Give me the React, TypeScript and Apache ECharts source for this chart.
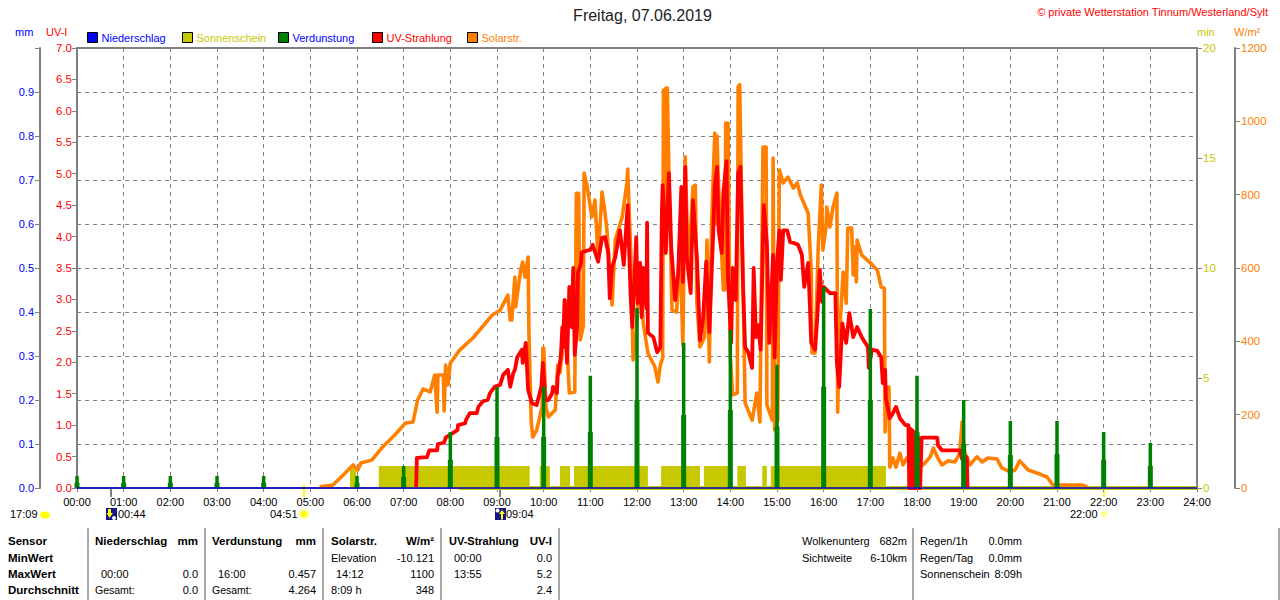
import React, { useEffect, useRef } from "react";
import * as echarts from "echarts";

const hourLabels = ["00:00","01:00","02:00","03:00","04:00","05:00","06:00","07:00","08:00","09:00","10:00","11:00","12:00","13:00","14:00","15:00","16:00","17:00","18:00","19:00","20:00","21:00","22:00","23:00","24:00"];

// Solar radiation, W/m²
const solarMinutes = [312,329,342,355,361,365,379,393,411,422,432,438,445,454,460,463,464,471,472,474,477,480,492,509,521,534,544,554,557,559,563,564,570,573,576,580,581,584,586,591,598,599,600,603,606,615,618,621,624,627,633,640,642,645,647,651,652,656,662,666,670,675,678,681,688,692,701,707,708,712,715,719,724,728,734,743,747,750,753,754,756,757,759,761,765,771,775,779,782,786,792,795,797,801,807,810,813,816,820,822,823,824,831,833,834,835,836,837,840,843,849,850,852,859,868,874,878,882,886,887,894,895,897,901,903,908,914,921,926,930,940,944,945,949,953,957,959,963,964,968,972,977,978,980,985,989,991,996,998,1000,1002,1003,1009,1020,1029,1034,1038,1039,1041,1044,1045,1049,1053,1058,1062,1067,1077,1088,1097,1101,1106,1112,1120,1129,1135,1138,1141,1148,1157,1164,1171,1183,1189,1200,1206,1212,1223,1238,1247,1255,1293,1299];
const solarValues = [3,8,35,63,49,68,76,112,150,177,180,240,270,262,308,207,308,308,210,335,281,341,376,409,439,472,485,526,458,458,575,494,589,616,575,630,431,180,139,158,221,382,382,221,194,213,335,314,371,513,259,262,804,804,404,442,859,821,739,785,622,807,766,712,499,676,739,832,870,641,349,423,603,450,368,330,289,335,355,1085,640,1090,1091,867,485,480,668,390,903,594,821,826,504,385,412,676,344,723,968,720,960,867,540,540,995,560,995,995,357,254,259,1094,1100,232,185,259,180,930,930,226,185,900,158,185,867,832,848,818,832,799,750,594,368,368,657,826,649,712,766,712,766,804,207,404,589,504,709,709,581,657,562,676,635,614,594,548,545,153,275,275,57,82,57,95,63,82,63,63,85,109,85,63,74,71,95,180,98,63,85,71,82,79,55,44,49,74,49,38,30,8,8,3];

// UV index
const uvMinutes = [436,437,450,453,463,464,472,474,489,490,499,500,505,514,516,522,528,531,537,544,548,554,557,561,563,566,572,573,577,580,585,591,597,599,602,606,611,612,617,618,622,624,625,627,630,633,636,638,640,643,644,648,649,660,663,670,675,679,683,685,688,692,698,703,708,712,714,719,721,724,726,728,732,733,734,741,746,750,752,753,757,761,764,769,773,777,779,782,784,789,792,797,801,805,809,813,818,820,823,825,829,831,835,837,841,843,847,850,853,856,859,863,868,870,873,876,879,881,883,887,890,895,897,900,903,905,908,913,917,921,927,932,935,940,942,944,949,952,955,958,960,968,975,977,980,984,989,993,998,1003,1009,1017,1018,1022,1029,1034,1036,1039,1040,1045,1049,1053,1058,1065,1069,1070,1071,1073,1074,1076,1077,1079,1081,1083,1084,1086,1106,1107,1112,1135,1138,1144,1145];
const uvValues = [0,0.48,0.49,0.6,0.6,0.7,0.72,0.8,0.92,1,1.03,1.08,1.19,1.19,1.29,1.38,1.4,1.51,1.61,1.64,1.8,1.88,1.61,1.83,1.88,2.08,2.2,1.99,2.31,1.56,1.35,1.32,1.61,1.99,1.4,1.4,1.51,1.61,1.51,1.77,2.08,2.56,2.24,2.99,1.99,3.2,2.56,3.5,2.12,2.56,3.42,3.58,3.75,3.79,3.87,3.6,3.98,3.99,3.74,3.02,3.52,3.67,4.1,3.55,4.5,2.99,2.56,3.99,2.94,3.58,2.72,3.5,2.86,4.22,2.47,2.4,2.16,2.24,4.42,4.82,3.74,5.01,3.83,2.99,3.42,4.79,3.28,5.11,3.67,3.1,4.58,3.67,2.35,2.7,3.6,2.48,4.06,4.82,5.11,4.1,3.74,4.69,5.2,3.36,2.31,3.5,2.99,5.01,5.11,3.36,2.24,2.16,1.91,3.5,2.4,2.59,2.2,3.36,4.5,3.9,2.31,3.71,2.08,3.58,4.1,3.31,4.1,4.1,3.91,3.9,3.87,3.71,3.2,3.58,2.99,2.31,2.2,2.75,3.47,2.96,3.2,3.1,3.1,1.99,1.61,2.62,2.31,2.78,2.4,2.56,2.4,2.24,1.91,2.2,2.18,2.08,1.67,1.88,1.43,1.11,1.19,1.29,1.11,1,1,0,0.95,0,0.92,0,0.89,0,0.83,0,0,0.8,0.8,0.68,0.6,0.6,0.46,0.49,0];

// Evaporation, mm: one peak and a lower base at the given minutes
const evapMinutes = [0,60,120,180,240,360,420,480,540,600,660,720,780,840,900,960,1020,1080,1140,1200,1260,1320,1380];
const evapPeaks = [0.027,0.027,0.027,0.027,0.027,0.027,0.05,0.127,0.23,0.23,0.255,0.409,0.33,0.359,0.28,0.457,0.407,0.255,0.2,0.152,0.152,0.127,0.102];
const evapBases = [0.012,0.012,0.012,0.012,0.012,0.012,0.025,0.064,0.116,0.116,0.127,0.2,0.166,0.177,0.14,0.23,0.2,0.127,0.1,0.075,0.077,0.064,0.05];

// Sunshine, min per interval
const sunStarts = [351,388,595,621,639,751,806,849,881,892];
const sunEnds = [359,582,608,634,734,801,838,860,887,1040];
const sunZeroRun = [[490, 0], [1440, 0]];

// Precipitation, mm
const rainRun = [[0, 0], [1440, 0]];

const titleText = "Freitag, 07.06.2019";
const copyrightText = "© private Wetterstation Tinnum/Westerland/Sylt";
const legendNames = ["Niederschlag", "Sonnenschein", "Verdunstung", "UV-Strahlung", "Solarstr."];
const axisUnits = ["mm", "UV-I", "min", "W/m²"];
const timeNotes = ["17:09", "00:44", "04:51", "09:04", "22:00"];
const tableColumnOne = ["Sensor", "MinWert", "MaxWert", "Durchschnitt"];
const rainCells = ["Niederschlag", "mm", "00:00", "0.0", "Gesamt:", "0.0"];
const evapCells = ["Verdunstung", "mm", "16:00", "0.457", "Gesamt:", "4.264"];
const solarCells = ["Solarstr.", "W/m²", "Elevation", "-10.121", "14:12", "1100", "8:09 h", "348"];
const uvCells = ["UV-Strahlung", "UV-I", "00:00", "0.0", "13:55", "5.2", "2.4"];
const extraCells = ["Wolkenunterg", "682m", "Sichtweite", "6-10km", "Regen/1h", "0.0mm", "Regen/Tag", "0.0mm", "Sonnenschein", "8:09h"];

const FONT = '"Liberation Sans", Arial, sans-serif';
const GREY = "#808080";

const zip = (a: number[], b: number[]) => a.map((m, i) => [m, b[i]]);
const comb = (mins: number[], vals: number[]) => {
  const out: any[] = [];
  mins.forEach((m, i) => {
    out.push([m, 0], [m, vals[i]], [m, "-"]);
  });
  return out;
};
const blocks = () => {
  const out: number[][] = [];
  sunStarts.forEach((s, i) => {
    out.push([s, 0], [s, 1], [sunEnds[i], 1], [sunEnds[i], 0]);
  });
  return out;
};

const txt = (text: string, x: number, y: number, fill = "#000", opt: any = {}) => ({
  type: "text",
  silent: true,
  style: {
    text, x, y, fill,
    font: `${opt.bold ? "bold " : ""}${opt.size ?? (opt.bold ? 11.5 : 11)}px ${FONT}`,
    textAlign: opt.align ?? "left",
    textVerticalAlign: "middle",
  },
});
const vline = (x: number, y1: number, y2: number, stroke: string, lineWidth = 2) => ({
  type: "line",
  silent: true,
  shape: { x1: x, y1, x2: x, y2 },
  style: { stroke, lineWidth },
});

function buildGraphics() {
  const R = [541, 558, 574, 590];
  const g: any[] = [];
  g.push(txt(titleText, 642.5, 15, "#222", { size: 16, align: "center" }));
  g.push(txt(copyrightText, 1268, 12, "#ff0000", { size: 11, align: "right" }));
  g.push(txt(axisUnits[0], 15, 32, "#0000ff"));
  g.push(txt(axisUnits[1], 46, 32, "#ff0000"));
  g.push(txt(axisUnits[2], 1197, 32, "#c8c800"));
  g.push(txt(axisUnits[3], 1234, 32, "#ff8000"));

  // sun and moon markers under the axis
  g.push(vline(111, 489, 497, GREY));
  g.push(vline(304, 484, 497, "#ffff00"));
  g.push(vline(500, 489, 497, GREY));
  g.push(vline(1104, 490, 497, "#ffff00"));
  g.push(txt(timeNotes[0], 10, 514));
  g.push({ type: "ellipse", silent: true, shape: { cx: 45, cy: 515, rx: 5, ry: 3.5 }, style: { fill: "#ffff00" } });
  g.push({ type: "rect", silent: true, shape: { x: 106, y: 508, width: 11, height: 12 }, style: { fill: "#14148c" } });
  g.push({ type: "polygon", silent: true, shape: { points: [[108, 509], [111, 509], [111, 513], [113, 513], [109.5, 518], [106.5, 513], [108, 513]] }, style: { fill: "#ffff00" } });
  g.push({ type: "circle", silent: true, shape: { cx: 114, cy: 518, r: 2 }, style: { fill: "#ffffff" } });
  g.push(txt(timeNotes[1], 118, 514));
  g.push(txt(timeNotes[2], 270, 514));
  g.push({ type: "circle", silent: true, shape: { cx: 304, cy: 514, r: 5.5 }, style: { fill: "#ffffc8" } });
  g.push({ type: "circle", silent: true, shape: { cx: 304, cy: 514, r: 3.5 }, style: { fill: "#ffff00" } });
  g.push({ type: "rect", silent: true, shape: { x: 495, y: 508, width: 11, height: 12 }, style: { fill: "#14148c" } });
  g.push({ type: "circle", silent: true, shape: { cx: 497.5, cy: 510.5, r: 2 }, style: { fill: "#ffffff" } });
  g.push({ type: "polygon", silent: true, shape: { points: [[502, 510], [505, 514], [503, 514], [503, 519.5], [501, 519.5], [501, 514], [499, 514]] }, style: { fill: "#ffff00" } });
  g.push(txt(timeNotes[3], 506, 514));
  g.push(txt(timeNotes[4], 1070, 514));
  g.push({ type: "rect", silent: true, shape: { x: 1102, y: 512, width: 4, height: 4 }, style: { fill: "#fff", stroke: "#ffff00", lineWidth: 1 } });

  // table separators
  [88, 205, 323, 441, 559, 913, 1279].forEach((x) => g.push(vline(x, 528, 600, "#a8a8a8")));

  tableColumnOne.forEach((t, i) => g.push(txt(t, 8, R[i], "#000", { bold: true })));

  g.push(txt(rainCells[0], 95, R[0], "#000", { bold: true }));
  g.push(txt(rainCells[1], 198, R[0], "#000", { bold: true, align: "right" }));
  g.push(txt(rainCells[2], 101, R[2]));
  g.push(txt(rainCells[3], 198, R[2], "#000", { align: "right" }));
  g.push(txt(rainCells[4], 95, R[3], "#000", { size: 10.5 }));
  g.push(txt(rainCells[5], 198, R[3], "#000", { align: "right" }));

  g.push(txt(evapCells[0], 212, R[0], "#000", { bold: true }));
  g.push(txt(evapCells[1], 316, R[0], "#000", { bold: true, align: "right" }));
  g.push(txt(evapCells[2], 218, R[2]));
  g.push(txt(evapCells[3], 316, R[2], "#000", { align: "right" }));
  g.push(txt(evapCells[4], 212, R[3], "#000", { size: 10.5 }));
  g.push(txt(evapCells[5], 316, R[3], "#000", { align: "right" }));

  g.push(txt(solarCells[0], 331, R[0], "#000", { bold: true }));
  g.push(txt(solarCells[1], 434, R[0], "#000", { bold: true, align: "right" }));
  g.push(txt(solarCells[2], 331, R[1]));
  g.push(txt(solarCells[3], 434, R[1], "#000", { align: "right" }));
  g.push(txt(solarCells[4], 336, R[2]));
  g.push(txt(solarCells[5], 434, R[2], "#000", { align: "right" }));
  g.push(txt(solarCells[6], 331, R[3]));
  g.push(txt(solarCells[7], 434, R[3], "#000", { align: "right" }));

  g.push(txt(uvCells[0], 449, R[0], "#000", { bold: true, size: 11 }));
  g.push(txt(uvCells[1], 552, R[0], "#000", { bold: true, align: "right" }));
  g.push(txt(uvCells[2], 454, R[1]));
  g.push(txt(uvCells[3], 552, R[1], "#000", { align: "right" }));
  g.push(txt(uvCells[4], 454, R[2]));
  g.push(txt(uvCells[5], 552, R[2], "#000", { align: "right" }));
  g.push(txt(uvCells[6], 552, R[3], "#000", { align: "right" }));

  g.push(txt(extraCells[0], 802, R[0]));
  g.push(txt(extraCells[1], 907, R[0], "#000", { align: "right" }));
  g.push(txt(extraCells[2], 802, R[1]));
  g.push(txt(extraCells[3], 907, R[1], "#000", { align: "right" }));
  g.push(txt(extraCells[4], 920, R[0]));
  g.push(txt(extraCells[5], 1022, R[0], "#000", { align: "right" }));
  g.push(txt(extraCells[6], 920, R[1]));
  g.push(txt(extraCells[7], 1022, R[1], "#000", { align: "right" }));
  g.push(txt(extraCells[8], 920, R[2]));
  g.push(txt(extraCells[9], 1022, R[2], "#000", { align: "right" }));
  return g;
}

const legendX = [87, 182, 278, 372, 467];
const legendTextColors = ["#0000ff", "#c8c800", "#0000ff", "#ff0000", "#ff8000"];

export default function App() {
  const ref = useRef<HTMLDivElement>(null);
  useEffect(() => {
    document.body.style.margin = "0";
    const chart = echarts.init(ref.current!, undefined, { renderer: "svg" });
    const yBase = {
      type: "value",
      min: 0,
      axisLine: { show: false },
      axisTick: { show: true, length: 5, lineStyle: { color: GREY, width: 1 } },
      splitLine: { show: false },
    };
    chart.setOption({
      animation: false,
      textStyle: { fontFamily: FONT },
      tooltip: { show: false },
      grid: {
        left: 77, right: 83, top: 48, bottom: 112, containLabel: false,
        show: true, borderColor: GREY, borderWidth: 2, backgroundColor: "transparent",
      },
      legend: legendNames.map((name, i) => ({
        data: [name],
        left: legendX[i],
        top: 32,
        padding: 0,
        icon: "rect",
        itemWidth: 10,
        itemHeight: 10,
        itemGap: 0,
        selectedMode: false,
        itemStyle: { borderColor: "#000", borderWidth: 1 },
        textStyle: { color: legendTextColors[i], fontSize: 11, fontFamily: FONT, padding: [0, 0, 0, -1] },
      })),
      xAxis: {
        type: "value",
        min: 0,
        max: 1440,
        interval: 60,
        axisLine: { show: true, onZero: false, lineStyle: { color: GREY, width: 2 } },
        axisTick: { show: true, length: 4, lineStyle: { color: GREY } },
        axisLabel: {
          color: "#000", fontSize: 11, fontFamily: FONT, margin: 8,
          formatter: (v: number) => hourLabels[Math.round(v / 60)],
        },
        splitLine: { show: true, lineStyle: { color: GREY, type: [4, 4], width: 1 } },
      },
      yAxis: [
        {
          ...yBase, position: "left", max: 7, interval: 0.5, offset: 0,
          axisLabel: { color: "#ff0000", fontSize: 11.5, margin: 5, fontFamily: FONT, formatter: (v: number) => v.toFixed(1) },
        },
        {
          ...yBase, position: "left", max: 1, interval: 0.1, offset: 37,
          axisLine: { show: true, lineStyle: { color: GREY, width: 2 } },
          axisLabel: { color: "#0000ff", fontSize: 11, margin: 6, fontFamily: FONT, formatter: (v: number) => (v >= 0.99 ? "" : v.toFixed(1)) },
          splitLine: { show: true, lineStyle: { color: GREY, type: [4, 4], width: 1 } },
        },
        {
          ...yBase, position: "right", max: 20, interval: 5, offset: 0,
          axisLabel: { color: "#c8c800", fontSize: 11.5, margin: 6, fontFamily: FONT, formatter: (v: number) => String(v) },
        },
        {
          ...yBase, position: "right", max: 1200, interval: 200, offset: 38,
          axisLine: { show: true, lineStyle: { color: GREY, width: 2 } },
          axisLabel: { color: "#ff8000", fontSize: 11.5, margin: 6, fontFamily: FONT, formatter: (v: number) => String(v) },
        },
      ],
      series: [
        {
          name: "Sonnenschein", type: "line", yAxisIndex: 2, data: blocks(), showSymbol: false, clip: false, z: 2,
          itemStyle: { color: "#c8c800" }, lineStyle: { width: 0, color: "#c8c800" },
          areaStyle: { color: "#c8c800", opacity: 1 },
        },
        {
          name: "Sonnenschein", type: "line", yAxisIndex: 2, data: sunZeroRun, showSymbol: false, clip: false, z: 3,
          itemStyle: { color: "#c8c800" }, lineStyle: { width: 4, color: "#c8c800", cap: "butt" },
        },
        {
          name: "Solarstr.", type: "line", yAxisIndex: 3, data: zip(solarMinutes, solarValues), showSymbol: false, clip: false, z: 4,
          itemStyle: { color: "#ff8000" }, lineStyle: { width: 3.6, color: "#ff8000", join: "round" },
        },
        {
          name: "UV-Strahlung", type: "line", yAxisIndex: 0, data: zip(uvMinutes, uvValues), showSymbol: false, clip: false, z: 5,
          itemStyle: { color: "#ff0000" }, lineStyle: { width: 3.8, color: "#ff0000", join: "round" },
        },
        {
          name: "Verdunstung", type: "line", yAxisIndex: 1, data: comb(evapMinutes, evapPeaks), showSymbol: false, clip: false, z: 6,
          connectNulls: false,
          itemStyle: { color: "#008000" }, lineStyle: { width: 3.5, color: "#008000", cap: "butt" },
        },
        {
          name: "Verdunstung", type: "line", yAxisIndex: 1, data: comb(evapMinutes, evapBases), showSymbol: false, clip: false, z: 6,
          connectNulls: false,
          itemStyle: { color: "#008000" }, lineStyle: { width: 5, color: "#008000", cap: "butt" },
        },
        {
          name: "Niederschlag", type: "line", yAxisIndex: 1, data: rainRun, showSymbol: false, clip: false, z: 7,
          itemStyle: { color: "#0000ff" }, lineStyle: { width: 1.5, color: "#0000c8", cap: "butt" },
        },
      ],
      graphic: buildGraphics(),
    });
    return () => chart.dispose();
  }, []);
  return <div ref={ref} style={{ position: "absolute", left: 0, top: 0, width: 1280, height: 600, background: "#fff" }} />;
}
